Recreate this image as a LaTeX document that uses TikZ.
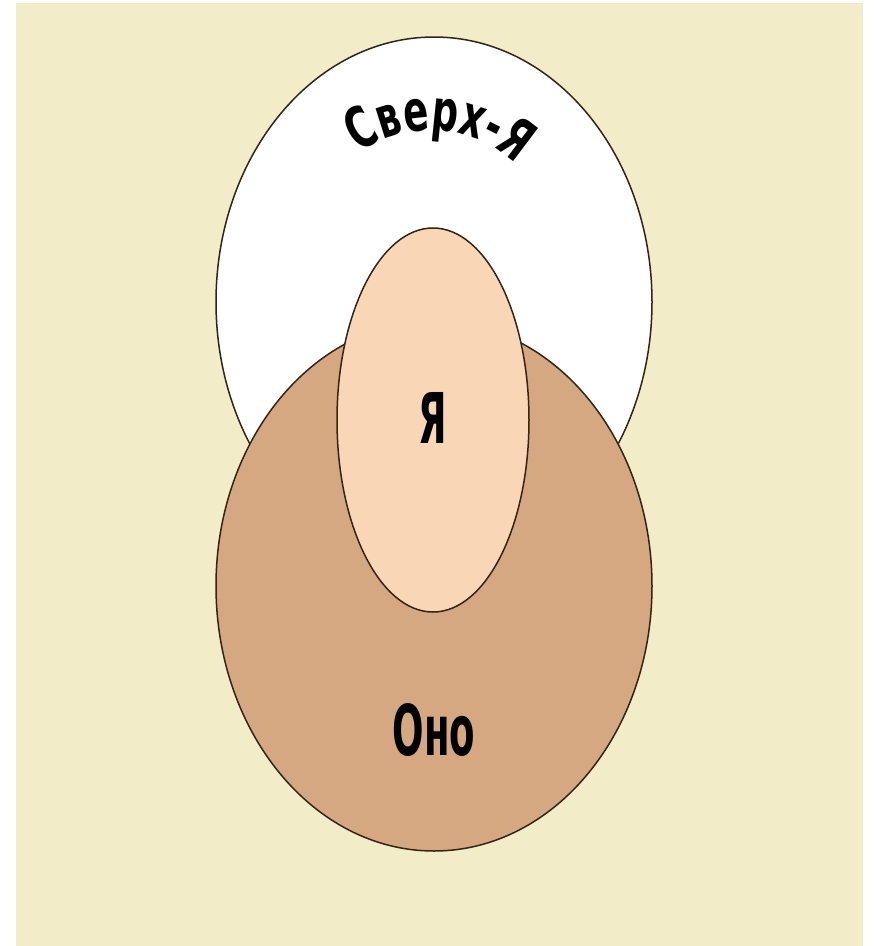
\documentclass[tikz,border=0pt]{standalone}
\usepackage{fontspec}
\newfontfamily\labelfont{DejaVu Sans}[FakeStretch=0.53]
\newfontfamily\arcfont{DejaVu Sans}[FakeStretch=0.65]
\usetikzlibrary{decorations.text}
\definecolor{paper}{RGB}{243,236,200}
\definecolor{idbrown}{RGB}{213,168,130}
\definecolor{egopink}{RGB}{248,214,182}
\definecolor{outline}{RGB}{50,36,24}

\begin{document}
\begin{tikzpicture}[
    x=1pt, y=-1pt,
    region/.style={draw=outline, line width=1.5pt},
    tag/.style={font=\labelfont\bfseries\fontsize{70}{70}\selectfont, inner sep=0pt}
]
    \useasboundingbox (0,0) rectangle (874,946);
    \fill[paper] (16,3) rectangle (863,946);

    % super-ego on top, id below, ego in the middle
    \draw[region, fill=white] (434,302) ellipse [x radius=218pt, y radius=265pt];
    \draw[region, fill=idbrown] (434,586) ellipse [x radius=218pt, y radius=265pt];
    \draw[region, fill=egopink] (433,420) ellipse [x radius=96pt, y radius=192pt];

    \node[tag] (ego) at (433,418) {Я};
    \node[tag] (id) at (434,730) {Оно};

    \coordinate (superego) at (431,253);
    \path[decorate, decoration={text along path, text align=center,
        text={|\arcfont\bfseries\fontsize{57}{60}\selectfont|Сверх-Я}}]
        (superego) ++(166:123pt) arc[start angle=166, end angle=6, radius=123pt];
\end{tikzpicture}
\end{document}
